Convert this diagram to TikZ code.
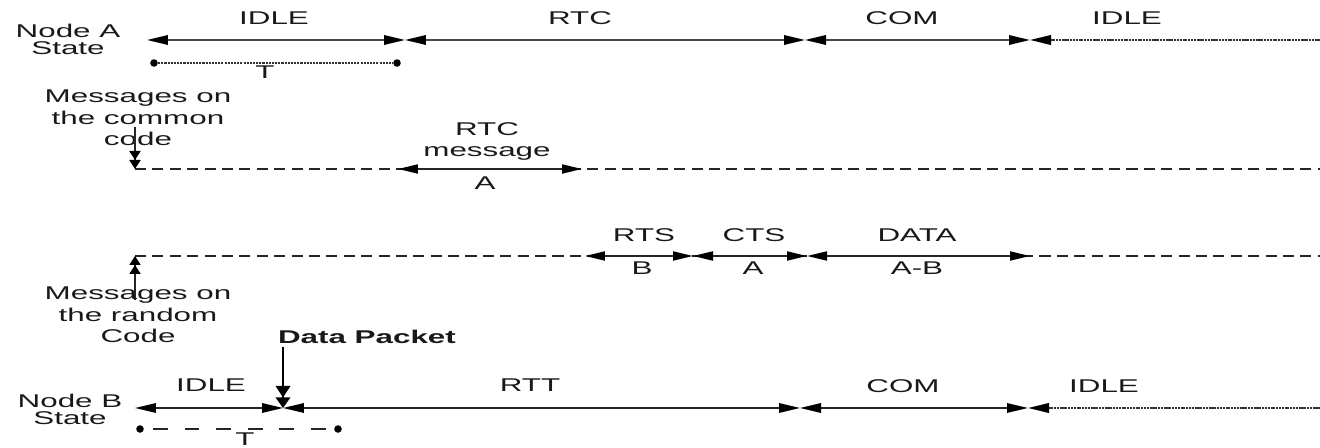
\documentclass[tikz,border=0pt]{standalone}
\usepackage{fontspec}
\setmainfont{Liberation Sans}[FakeStretch=1.7]
\usetikzlibrary{arrows.meta}
\tikzset{
  lbl/.style={font=\fontsize{10.5}{12.5}\selectfont, inner sep=0pt, anchor=base, text=black!90, align=center},
  blbl/.style={lbl, font=\fontsize{10.5}{12.5}\selectfont\bfseries},
  seg/.style={line width=1pt, draw=black!72,
    {Triangle[length=4.2mm,width=1.9mm,color=black]}-{Triangle[length=4.2mm,width=1.9mm,color=black]}},
  segB/.style={seg, line width=0.9pt, draw=black!85},
  tailseg/.style={line width=1.3pt, draw=black!80, dash pattern=on 1.2pt off 0.4pt,
    {Triangle[length=4.2mm,width=1.9mm,color=black]}-},
  msg/.style={line width=1.1pt, draw=black!85,
    {Triangle[length=4mm,width=1.8mm,color=black]}-{Triangle[length=4mm,width=1.8mm,color=black]}},
  codeline/.style={line width=0.9pt, draw=black!85, dash pattern=on 6.3pt off 3.6pt},
  dbl/.style={line width=1pt, draw=black!85,
    -{Triangle[length=1.8mm,width=2.2mm,color=black,sep=0pt]Triangle[length=1.8mm,width=2.2mm,color=black,sep=0pt]}},
  dpk/.style={line width=0.9pt, draw=black,
    -{Triangle[length=2.3mm,width=2.9mm,color=black,sep=0pt]Triangle[length=2.1mm,width=2.9mm,color=black,sep=0pt]}},
  dot/.style={circle, fill=black, inner sep=0pt, minimum size=4.3pt},
  tdotA/.style={line width=0.8pt, draw=black!80, dash pattern=on 1.2pt off 0.6pt},
  tdashB/.style={line width=1pt, draw=black!85, dash pattern=on 8.5pt off 9.5pt, dash phase=-5pt}
}
\begin{document}
\begin{tikzpicture}[x=0.02cm,y=-0.02cm]
\useasboundingbox (0,0) rectangle (1320,448);

% ---------- Node A state row ----------
\coordinate (a0) at (147,40);
\coordinate (a1) at (405,40);
\coordinate (a2) at (805,40);
\coordinate (a3) at (1030,40);
\coordinate (a4) at (1320,40);
\draw[seg] (a0) -- (a1);
\draw[seg] (a1) -- (a2);
\draw[seg] (a2) -- (a3);
\draw[tailseg] (a3) -- (a4);

\node[lbl] (nodeA) at (68,55) {Node A\\[-2.3pt]State};
\node[lbl] (idleA) at (274,25) {IDLE};
\node[lbl] (rtcA) at (580,25) {RTC};
\node[lbl] (comA) at (902,25) {COM};
\node[lbl] (idleA2) at (1127,25) {IDLE};

\node[dot] (ta0) at (154,63) {};
\node[dot] (ta1) at (397,63) {};
\draw[tdotA] (ta0) -- (ta1);
\node[lbl] (tA) at (265,79) {T};

% ---------- common code row ----------
\coordinate (c0) at (135,169);
\coordinate (c1) at (1320,169);
\coordinate (cm0) at (398,169);
\coordinate (cm1) at (582,169);
\coordinate (cd) at (135,127);
\draw[codeline] (c0) -- (c1);
\draw[msg] (cm0) -- (cm1);
\node[lbl] (common) at (138,146) {Messages on\\the common\\code};
\draw[dbl] (cd) -- (c0);
\node[lbl] (rtcmsg) at (487,157) {RTC\\message};
\node[lbl] (rtcA2) at (485,190) {A};

% ---------- random code row ----------
\coordinate (r0) at (135,256);
\coordinate (r1) at (585,256);
\coordinate (r2) at (693,256);
\coordinate (r3) at (807,256);
\coordinate (r4) at (1030,256);
\coordinate (r5) at (1320,256);
\coordinate (ru) at (135,300);
\draw[codeline] (r0) -- (r5);
\draw[msg] (r1) -- (r2);
\draw[msg] (r2) -- (r3);
\draw[msg] (r3) -- (r4);
\draw[dbl] (ru) -- (r0);
\node[lbl] (random) at (138,343) {Messages on\\the random\\Code};
\node[lbl] (rts) at (644,242) {RTS};
\node[lbl] (cts) at (754,242) {CTS};
\node[lbl] (data) at (917,242) {DATA};
\node[lbl] (rtsB) at (642,275) {B};
\node[lbl] (ctsA) at (753,275) {A};
\node[lbl] (dataAB) at (917,275) {A-B};

% ---------- Node B state row ----------
\coordinate (b0) at (135,408);
\coordinate (b1) at (283,408);
\coordinate (b2) at (800,408);
\coordinate (b3) at (1028,408);
\coordinate (b4) at (1320,408);
\draw[segB] (b0) -- (b1);
\draw[segB] (b1) -- (b2);
\draw[segB] (b2) -- (b3);
\draw[tailseg] (b3) -- (b4);

\node[blbl] (packet) at (367,344) {Data Packet};
\coordinate (dp) at (283,347);
\draw[dpk] (dp) -- (b1);

\node[lbl] (nodeB) at (70,425) {Node B\\[-2.3pt]State};
\node[lbl] (idleB) at (211,392) {IDLE};
\node[lbl] (rtt) at (530,392) {RTT};
\node[lbl] (comB) at (903,393) {COM};
\node[lbl] (idleB2) at (1104,393) {IDLE};

\node[dot] (tb0) at (140,429) {};
\node[dot] (tb1) at (338,429) {};
\draw[tdashB] (tb0) -- (tb1);
\node[lbl] (tB) at (245,445.5) {T};
\end{tikzpicture}
\end{document}
